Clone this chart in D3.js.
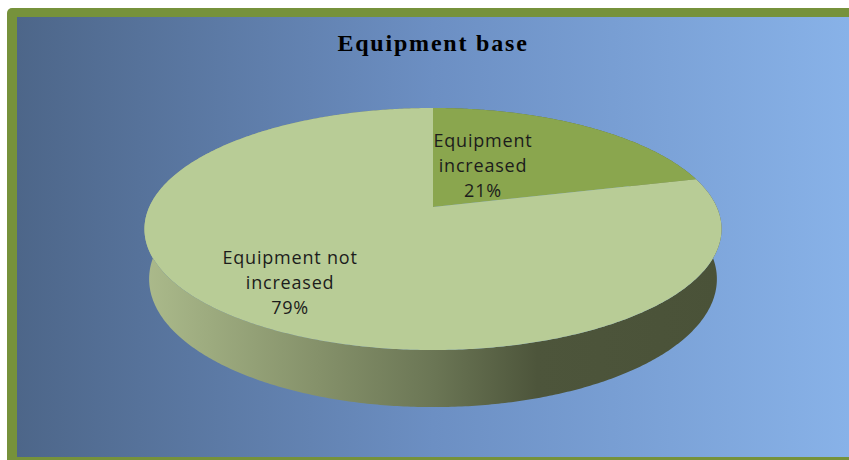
<!DOCTYPE html>
<html>
<head>
<meta charset="utf-8">
<script src="https://cdn.jsdelivr.net/npm/d3@7"></script>
<style>
  body { margin: 0; background: #ffffff; }
  svg { display: block; }
</style>
</head>
<body>
<script>
// chart values
var categories = ["Equipment increased", "Equipment not increased"];
var values = [21, 79];
var labelLines = [["Equipment", "increased", "21%"], ["Equipment not", "increased", "79%"]];
var chartTitle = "Equipment base";

var width = 849;
var height = 460;

var svg = d3.select("body").append("svg")
  .attr("width", width)
  .attr("height", height);

var defs = svg.append("defs");

var bg = defs.append("linearGradient").attr("id", "bg")
  .attr("x1", 0).attr("x2", 1).attr("y1", 0).attr("y2", 0);
bg.append("stop").attr("offset", "0%").attr("stop-color", "#4d6689");
bg.append("stop").attr("offset", "50%").attr("stop-color", "#6c8fc3");
bg.append("stop").attr("offset", "100%").attr("stop-color", "#88b2e8");

var side = defs.append("linearGradient").attr("id", "side")
  .attr("gradientUnits", "userSpaceOnUse")
  .attr("x1", 145).attr("x2", 722).attr("y1", 0).attr("y2", 0);
side.append("stop").attr("offset", "0%").attr("stop-color", "#abba8b");
side.append("stop").attr("offset", "30%").attr("stop-color", "#85916a");
side.append("stop").attr("offset", "50%").attr("stop-color", "#6b7655");
side.append("stop").attr("offset", "68%").attr("stop-color", "#4d553b");
side.append("stop").attr("offset", "100%").attr("stop-color", "#4a5238");

//frame + background
svg.append("rect")
  .attr("x", 7).attr("y", 8)
  .attr("width", 880).attr("height", 480)
  .attr("rx", 5)
  .style("fill", "#76923b");

svg.append("rect")
  .attr("x", 17).attr("y", 17)
  .attr("width", width - 17).attr("height", 440)
  .style("fill", "url(#bg)");

svg.append("text")
  .attr("x", 433).attr("y", 51)
  .attr("text-anchor", "middle")
  .style("font-family", "'Liberation Serif', 'Times New Roman', serif")
  .style("font-weight", "bold")
  .style("font-size", "24px")
  .style("letter-spacing", "1.8px")
  .style("fill", "#000000")
  .text(chartTitle);

// 3D pie: perspective projection of a flat cylinder
var cx = 433, cy = 207;
var tilt = 24.36 * Math.PI / 180;
var camDist = 5.01, focal = 1421.5, depth = 0.193;
var sT = Math.sin(tilt), cT = Math.cos(tilt);

function project(theta, k, yw) {
  var x = k * Math.sin(theta);
  var z = -k * Math.cos(theta);
  var yc = yw * cT - z * sT;
  var d = camDist - (z * cT + yw * sT);
  return [cx + focal * x / d, cy - focal * yc / d];
}

var pie = d3.pie().sort(null).value(function(d) { return d; });
var arcs = pie(values);

var topColors = ["#8aa64e", "#b8cc96"];
var wallColors = ["#5d6e35", "url(#side)"];

function arcPoints(a0, a1, yw) {
  var n = Math.max(2, Math.ceil((a1 - a0) / 0.01));
  var pts = [];
  for (var i = 0; i <= n; i++) {
    pts.push(project(a0 + (a1 - a0) * i / n, 1, yw));
  }
  return pts;
}

var line = d3.line();

// walls
svg.selectAll("path.wall")
  .data(arcs)
  .enter().append("path")
  .attr("class", "wall")
  .attr("d", function(d) {
    var topPts = arcPoints(d.startAngle, d.endAngle, 0);
    var botPts = arcPoints(d.startAngle, d.endAngle, -depth).reverse();
    return line(topPts.concat(botPts)) + "Z";
  })
  .style("fill", function(d, i) { return wallColors[i]; });

// top faces
svg.selectAll("path.top")
  .data(arcs)
  .enter().append("path")
  .attr("class", "top")
  .attr("d", function(d) {
    var pts = [project(0, 0, 0)].concat(arcPoints(d.startAngle, d.endAngle, 0));
    return line(pts) + "Z";
  })
  .style("fill", function(d, i) { return topColors[i]; });

// labels
var labelK = [0.3, 0.735];
var labelShift = [-14, 0];
arcs.forEach(function(d, i) {
  var mid = (d.startAngle + d.endAngle) / 2;
  var p = project(mid, labelK[i], 0);
  var t = svg.append("text")
    .attr("text-anchor", "middle")
    .style("font-family", "'Open Sans', sans-serif")
    .style("font-size", "18px")
    .style("letter-spacing", "0.8px")
    .style("fill", "#1c1c1c");
  labelLines[i].forEach(function(s, j) {
    t.append("tspan")
      .attr("x", p[0])
      .attr("y", p[1] + labelShift[i] + (j - 1) * 25 + 6)
      .text(s);
  });
});
</script>
</body>
</html>
